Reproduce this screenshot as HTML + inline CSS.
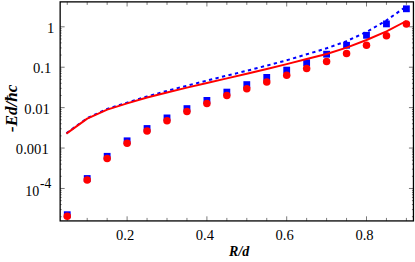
<!DOCTYPE html>
<html><head><meta charset="utf-8"><title>plot</title>
<style>
html,body{margin:0;padding:0;background:#fff;overflow:hidden;font-family:"Liberation Serif",serif;}
svg{display:block}
</style></head><body>
<svg width="415" height="262" viewBox="0 0 415 262">
<rect width="415" height="262" fill="#fff"/>
<path d="M67.25,220.92v-3.0M67.25,1.88v3.0M87.20,220.92v-3.0M87.20,1.88v3.0M107.15,220.92v-3.0M107.15,1.88v3.0M127.10,220.92v-4.6M127.10,1.88v4.6M147.05,220.92v-3.0M147.05,1.88v3.0M167.00,220.92v-3.0M167.00,1.88v3.0M186.95,220.92v-3.0M186.95,1.88v3.0M206.90,220.92v-4.6M206.90,1.88v4.6M226.85,220.92v-3.0M226.85,1.88v3.0M246.80,220.92v-3.0M246.80,1.88v3.0M266.75,220.92v-3.0M266.75,1.88v3.0M286.70,220.92v-4.6M286.70,1.88v4.6M306.65,220.92v-3.0M306.65,1.88v3.0M326.60,220.92v-3.0M326.60,1.88v3.0M346.55,220.92v-3.0M346.55,1.88v3.0M366.50,220.92v-4.6M366.50,1.88v4.6M386.45,220.92v-3.0M386.45,1.88v3.0M406.40,220.92v-3.0M406.40,1.88v3.0" stroke="#222" stroke-width="0.6" fill="none"/>
<path d="M60.15,216.73h1.5M413.45,216.73h-1.5M60.15,209.61h1.5M413.45,209.61h-1.5M60.15,204.56h1.5M413.45,204.56h-1.5M60.15,200.65h1.5M413.45,200.65h-1.5M60.15,197.45h1.5M413.45,197.45h-1.5M60.15,194.74h1.5M413.45,194.74h-1.5M60.15,192.40h1.5M413.45,192.40h-1.5M60.15,190.33h1.5M413.45,190.33h-1.5M60.15,188.48h4.5M413.45,188.48h-4.5M60.15,176.31h1.5M413.45,176.31h-1.5M60.15,169.19h1.5M413.45,169.19h-1.5M60.15,164.14h1.5M413.45,164.14h-1.5M60.15,160.23h1.5M413.45,160.23h-1.5M60.15,157.03h1.5M413.45,157.03h-1.5M60.15,154.32h1.5M413.45,154.32h-1.5M60.15,151.98h1.5M413.45,151.98h-1.5M60.15,149.91h1.5M413.45,149.91h-1.5M60.15,148.06h4.5M413.45,148.06h-4.5M60.15,135.89h1.5M413.45,135.89h-1.5M60.15,128.77h1.5M413.45,128.77h-1.5M60.15,123.72h1.5M413.45,123.72h-1.5M60.15,119.81h1.5M413.45,119.81h-1.5M60.15,116.61h1.5M413.45,116.61h-1.5M60.15,113.90h1.5M413.45,113.90h-1.5M60.15,111.56h1.5M413.45,111.56h-1.5M60.15,109.49h1.5M413.45,109.49h-1.5M60.15,107.64h4.5M413.45,107.64h-4.5M60.15,95.47h1.5M413.45,95.47h-1.5M60.15,88.35h1.5M413.45,88.35h-1.5M60.15,83.30h1.5M413.45,83.30h-1.5M60.15,79.39h1.5M413.45,79.39h-1.5M60.15,76.19h1.5M413.45,76.19h-1.5M60.15,73.48h1.5M413.45,73.48h-1.5M60.15,71.14h1.5M413.45,71.14h-1.5M60.15,69.07h1.5M413.45,69.07h-1.5M60.15,67.22h4.5M413.45,67.22h-4.5M60.15,55.05h1.5M413.45,55.05h-1.5M60.15,47.93h1.5M413.45,47.93h-1.5M60.15,42.88h1.5M413.45,42.88h-1.5M60.15,38.97h1.5M413.45,38.97h-1.5M60.15,35.77h1.5M413.45,35.77h-1.5M60.15,33.06h1.5M413.45,33.06h-1.5M60.15,30.72h1.5M413.45,30.72h-1.5M60.15,28.65h1.5M413.45,28.65h-1.5M60.15,26.80h4.5M413.45,26.80h-4.5" stroke="#222" stroke-width="0.62" fill="none"/>
<rect x="63.85" y="211.30" width="6.8" height="6.8" fill="#0000ff"/>
<rect x="83.80" y="175.10" width="6.8" height="6.8" fill="#0000ff"/>
<rect x="103.75" y="152.90" width="6.8" height="6.8" fill="#0000ff"/>
<rect x="123.70" y="137.40" width="6.8" height="6.8" fill="#0000ff"/>
<rect x="143.65" y="125.10" width="6.8" height="6.8" fill="#0000ff"/>
<rect x="163.60" y="114.50" width="6.8" height="6.8" fill="#0000ff"/>
<rect x="183.55" y="105.20" width="6.8" height="6.8" fill="#0000ff"/>
<rect x="203.50" y="97.00" width="6.8" height="6.8" fill="#0000ff"/>
<rect x="223.45" y="88.70" width="6.8" height="6.8" fill="#0000ff"/>
<rect x="243.40" y="81.20" width="6.8" height="6.8" fill="#0000ff"/>
<rect x="263.35" y="74.00" width="6.8" height="6.8" fill="#0000ff"/>
<rect x="283.30" y="66.70" width="6.8" height="6.8" fill="#0000ff"/>
<rect x="303.25" y="59.30" width="6.8" height="6.8" fill="#0000ff"/>
<rect x="323.20" y="50.80" width="6.8" height="6.8" fill="#0000ff"/>
<rect x="343.15" y="41.90" width="6.8" height="6.8" fill="#0000ff"/>
<rect x="363.10" y="31.90" width="6.8" height="6.8" fill="#0000ff"/>
<rect x="383.05" y="20.50" width="6.8" height="6.8" fill="#0000ff"/>
<rect x="403.00" y="5.40" width="6.8" height="6.8" fill="#0000ff"/>
<path d="M66.4,133.2 L87.2,118.2 L107.2,108.9 L127.1,102.6 L147.1,96.5 L167.0,90.9 L186.9,85.7 L206.9,80.6 L226.9,75.6 L246.8,70.8 L266.8,65.6 L286.7,60.3 L306.7,54.3 L326.6,48.3 L346.6,41.1 L366.5,32.0 L386.5,20.4 L406.4,6.3" stroke="#0000ff" stroke-width="2.0" fill="none" stroke-dasharray="3.3 3.378" stroke-dashoffset="0.06"/>
<path d="M66.4,133.6 L87.2,118.6 L107.2,109.6 L127.1,103.4 L147.1,97.5 L167.0,92.5 L186.9,87.6 L206.9,83.0 L226.9,78.4 L246.8,73.8 L266.8,69.0 L286.7,64.1 L306.7,59.0 L326.6,54.0 L346.6,47.6 L366.5,40.0 L386.5,31.3 L406.4,21.0" stroke="#ff0000" stroke-width="1.95" fill="none" stroke-linejoin="round"/>
<circle cx="67.25" cy="216.20" r="3.75" fill="#ff0000"/>
<circle cx="87.20" cy="180.00" r="3.75" fill="#ff0000"/>
<circle cx="107.15" cy="158.60" r="3.75" fill="#ff0000"/>
<circle cx="127.10" cy="143.30" r="3.75" fill="#ff0000"/>
<circle cx="147.05" cy="131.00" r="3.75" fill="#ff0000"/>
<circle cx="167.00" cy="120.80" r="3.75" fill="#ff0000"/>
<circle cx="186.95" cy="111.60" r="3.75" fill="#ff0000"/>
<circle cx="206.90" cy="103.40" r="3.75" fill="#ff0000"/>
<circle cx="226.85" cy="95.40" r="3.75" fill="#ff0000"/>
<circle cx="246.80" cy="88.70" r="3.75" fill="#ff0000"/>
<circle cx="266.75" cy="82.00" r="3.75" fill="#ff0000"/>
<circle cx="286.70" cy="75.20" r="3.75" fill="#ff0000"/>
<circle cx="306.65" cy="68.40" r="3.75" fill="#ff0000"/>
<circle cx="326.60" cy="61.40" r="3.75" fill="#ff0000"/>
<circle cx="346.55" cy="53.60" r="3.75" fill="#ff0000"/>
<circle cx="366.50" cy="45.30" r="3.75" fill="#ff0000"/>
<circle cx="386.45" cy="35.80" r="3.75" fill="#ff0000"/>
<circle cx="406.40" cy="23.90" r="3.75" fill="#ff0000"/>
<rect x="60.15" y="1.88" width="353.3" height="219.04" fill="none" stroke="#000" stroke-width="1.3"/>
<g font-family="'Liberation Serif', serif" fill="#000">
<text x="54.2" y="32.7" font-size="14.6" text-anchor="end">1</text>
<text x="51.2" y="73.1" font-size="14.6" text-anchor="end">0.1</text>
<text x="49.9" y="113.5" font-size="14.6" text-anchor="end">0.01</text>
<text x="48.7" y="154.0" font-size="14.6" text-anchor="end">0.001</text>
<text x="25.3" y="195.7" font-size="14">10</text>
<text x="39.9" y="188.4" font-size="13.6">-4</text>
<text x="125.1" y="240.2" font-size="14.6" text-anchor="middle">0.2</text>
<text x="204.9" y="240.2" font-size="14.6" text-anchor="middle">0.4</text>
<text x="284.7" y="240.2" font-size="14.6" text-anchor="middle">0.6</text>
<text x="364.5" y="240.2" font-size="14.6" text-anchor="middle">0.8</text>
<text x="239.2" y="255.5" font-size="14" font-weight="bold" font-style="italic" text-anchor="middle">R/d</text>
<text transform="translate(16.8,108.4) rotate(-90)" x="0" y="0" font-size="17" font-weight="bold" font-style="italic" text-anchor="middle">-Ed/ħc</text>
</g>
</svg></body></html>
